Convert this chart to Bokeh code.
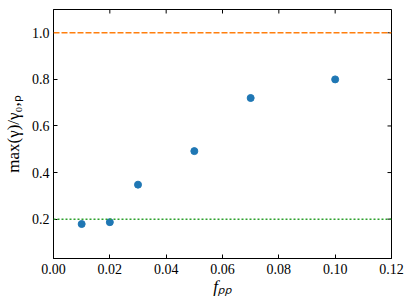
from bokeh.plotting import figure
from bokeh.models import (FixedTicker, PrintfTickFormatter, Span, Range1d)
from bokeh.embed import file_html
from bokeh.resources import INLINE

f_pp = [0.01, 0.02, 0.03, 0.05, 0.07, 0.10]
ratio = [0.179, 0.187, 0.348, 0.492, 0.72, 0.80]
x_ticks = [0.0, 0.02, 0.04, 0.06, 0.08, 0.10, 0.12]
y_ticks = [0.2, 0.4, 0.6, 0.8, 1.0]
upper_ref = 1.0
lower_ref = 0.2
x_lim = (0.0, 0.12)
y_lim = (0.031, 1.10)

FONT = "Liberation Serif"

p = figure(frame_width=338, frame_height=249, output_backend="svg", toolbar_location=None,
           x_range=Range1d(*x_lim), y_range=Range1d(*y_lim),
           min_border_left=48, min_border_top=9, min_border_right=13, min_border_bottom=37)
p.grid.visible = False
p.outline_line_color = "black"
p.outline_line_width = 1
p.background_fill_color = "white"
p.border_fill_color = "white"

def style(ax):
    ax.major_tick_in = 4
    ax.major_tick_out = 0
    ax.minor_tick_line_color = None
    ax.axis_line_color = "black"
    ax.axis_line_width = 1
    ax.major_tick_line_color = "black"
    ax.major_label_text_font = FONT
    ax.major_label_text_font_size = "14px"
    ax.major_label_text_color = "black"
    ax.axis_label_text_font = FONT
    ax.axis_label_text_color = "black"

xa = p.xaxis[0]
xa.ticker = FixedTicker(ticks=x_ticks)
xa.formatter = PrintfTickFormatter(format="%.2f")
style(xa)
xa.major_label_standoff = 5
xa.axis_label = "fₚₚ"
xa.axis_label_text_font_style = "italic"
xa.axis_label_text_font_size = "17px"
xa.axis_label_standoff = 0

ya = p.yaxis[0]
ya.ticker = FixedTicker(ticks=y_ticks)
ya.formatter = PrintfTickFormatter(format="%.1f")
style(ya)
ya.major_label_standoff = 4
ya.axis_label = "max(γ)/γ₀,ₚ"
ya.axis_label_text_font_style = "normal"
ya.axis_label_text_font_size = "17px"
ya.axis_label_standoff = 6

# inward ticks on top and right edges (clipped to the frame, so half shows)
p.scatter(x_ticks, [y_lim[1]] * len(x_ticks), marker="dash", angle=1.5708, size=8,
          line_color="black", line_width=1)
p.scatter([x_lim[1]] * len(y_ticks), y_ticks, marker="dash", size=8,
          line_color="black", line_width=1)

p.add_layout(Span(location=upper_ref, dimension="width", line_color="#ff7f0e",
                  line_width=1.5, line_dash="6 2"))
p.add_layout(Span(location=lower_ref, dimension="width", line_color="#2ca02c",
                  line_width=1.5, line_dash="2 2"))

p.scatter(f_pp, ratio, size=7, color="#1f77b4", line_color="#1f77b4")

open("out.html", "w").write(file_html(p, INLINE))
